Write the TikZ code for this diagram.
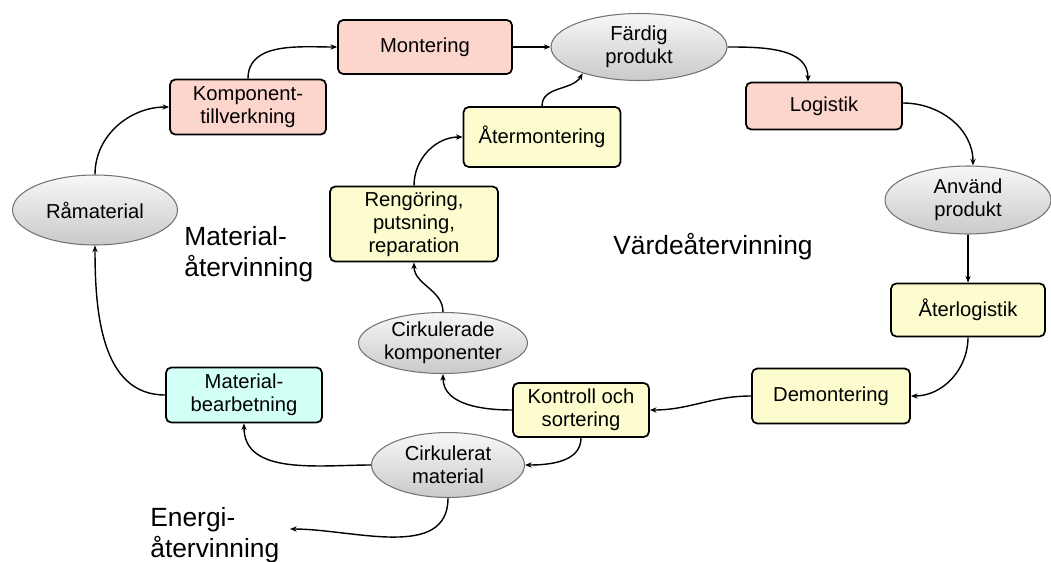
\documentclass[tikz,border=0pt]{standalone}
\usepackage{fontspec}
\setmainfont{Liberation Sans}
\usepackage{xcolor}
\usetikzlibrary{shapes,arrows,arrows.meta,positioning}

\definecolor{prodpink}{RGB}{252,214,204}
\definecolor{revyellow}{RGB}{252,252,206}
\definecolor{matcyan}{RGB}{210,255,246}

\begin{document}
\begin{tikzpicture}[
    x=0.02cm, y=0.02cm,
    box/.style={rectangle, draw, rounded corners=3pt, line width=1pt, minimum width=3.12cm, minimum height=1.1cm, inner sep=2pt, align=center, font=\fontsize{11.5}{13}\selectfont},
    pinkbox/.style={box, fill=prodpink},
    yellowbox/.style={box, fill=revyellow},
    cyanbox/.style={box, fill=matcyan},
    state/.style={ellipse, draw=black!55, line width=0.6pt, top color=gray!6, bottom color=gray!42, inner sep=0pt, align=center, font=\fontsize{11.5}{13}\selectfont},
    big/.style={font=\fontsize{15}{17.5}\selectfont, align=left, inner sep=0pt},
    arrow/.style={-{Stealth[length=3.8pt,width=3pt]}, line width=0.8pt},
]
    \useasboundingbox (0,0) rectangle (1051,-561);

    % Production chain
    \node[state, minimum width=3.3cm, minimum height=1.4cm] (ramat) at (95,-210) {Råmaterial};
    \node[pinkbox] (komp) at (248,-107) {Komponent-\\tillverkning};
    \node[pinkbox, minimum width=3.48cm, minimum height=1.08cm] (montering) at (425,-47) {Montering};
    \node[state, minimum width=3.52cm, minimum height=1.34cm] (fardig) at (639,-47) {Färdig\\produkt};
    \node[pinkbox, minimum height=0.94cm] (logistik) at (824,-106) {Logistik};
    \node[state, minimum width=3.32cm, minimum height=1.36cm] (anvand) at (968,-200) {Använd\\produkt};

    % Return chain
    \node[yellowbox, minimum width=3.08cm, minimum height=1.06cm] (aterlog) at (968,-310) {Återlogistik};
    \node[yellowbox, minimum width=3.16cm] (demont) at (831,-396) {Demontering};
    \node[yellowbox, minimum width=2.72cm, minimum height=1.08cm] (kontroll) at (581,-410) {Kontroll och\\sortering};
    \node[state, minimum width=3.38cm, minimum height=1.22cm] (cirkkomp) at (443,-343) {Cirkulerade\\komponenter};
    \node[yellowbox, minimum width=3.36cm, minimum height=1.5cm] (rengor) at (414,-224) {Rengöring,\\putsning,\\reparation};
    \node[yellowbox, minimum width=3.14cm, minimum height=1.2cm] (atermont) at (542,-137) {Återmontering};
    \node[state, minimum width=3.06cm, minimum height=1.3cm] (cirkmat) at (448,-465) {Cirkulerat\\material};
    \node[cyanbox] (matbearb) at (244,-395) {Material-\\bearbetning};

    % Labels
    \node[big, anchor=west] (matlbl) at (184,-254) {Material-\\återvinning};
    \node[big, anchor=west] (vardelbl) at (613,-247) {Värdeåtervinning};
    \node[big, anchor=west] (energilbl) at (150,-535) {Energi-\\återvinning};
    \coordinate (energi) at (290,-529);

    % Arrows
    \draw[arrow] (ramat.north) to[out=90, in=180] (komp.west);
    \draw[arrow] (komp.north) to[out=90, in=180] (montering.west);
    \draw[arrow] (montering) -- (fardig);
    \draw[arrow] (fardig.east) to[out=0, in=90] ([xshift=-0.32cm]logistik.north);
    \draw[arrow] ([yshift=0.06cm]logistik.east) to[out=0, in=90] ([xshift=0.1cm]anvand.north);
    \draw[arrow] (anvand.south) to[out=-90, in=90] (aterlog.north);
    \draw[arrow] (aterlog.south) to[out=-90, in=0] (demont.east);
    \draw[arrow] (demont.west) to[out=180, in=0] (kontroll.east);
    \draw[arrow] (kontroll.west) to[out=180, in=-90] (cirkkomp.south);
    \draw[arrow] (kontroll.south) to[out=-90, in=0] (cirkmat.east);
    \draw[arrow] (cirkkomp.north) to[out=90, in=-90] (rengor.south);
    \draw[arrow] (rengor.north) to[out=90, in=180] (atermont.west);
    \draw[arrow] (atermont.north) to[out=90, in=-120] (fardig.205);
    \draw[arrow] (cirkmat.west) to[out=180, in=-90] (matbearb.south);
    \draw[arrow] (cirkmat.south) to[out=-90, in=0] (energi);
    \draw[arrow] (matbearb.west) to[out=180, in=-90] (ramat.south);
\end{tikzpicture}
\end{document}
